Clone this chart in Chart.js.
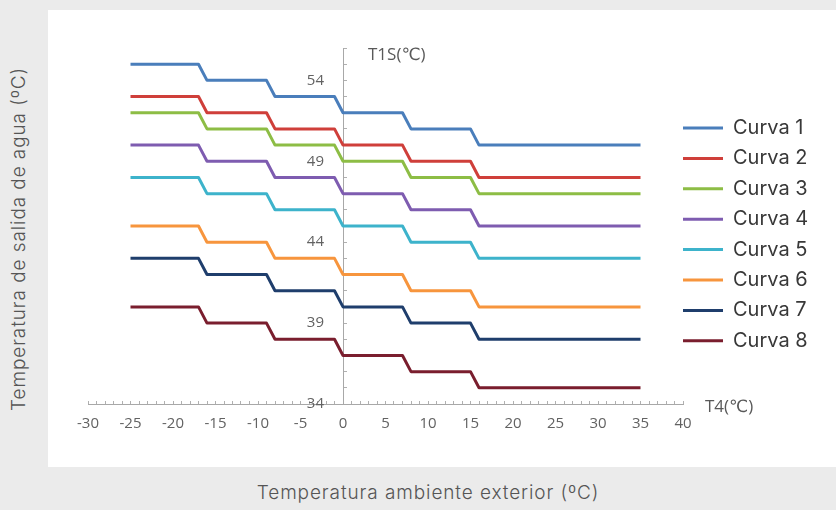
<!DOCTYPE html>
<html>
<head>
<meta charset="utf-8">
<script src="https://cdn.jsdelivr.net/npm/chart.js@4.4.1/dist/chart.umd.min.js"></script>
<style>
  html, body { margin: 0; padding: 0; }
  body { width: 836px; height: 510px; background: #ebebeb; position: relative; overflow: hidden; }
  #panel { position: absolute; left: 48px; top: 10px; width: 788px; height: 457px; background: #ffffff; }
  #panel canvas { position: absolute; left: 0; top: 0; }
  .title { position: absolute; font-family: Inter, "Noto Sans", sans-serif; font-weight: 300; font-size: 19px; letter-spacing: 0.9px; color: #555; white-space: nowrap; }
  #xtitle { left: 428px; top: 492px; transform: translate(-50%, -50%); }
  #ytitle { left: 18px; top: 239px; transform: translate(-50%, -50%) rotate(-90deg); }
</style>
</head>
<body>
<div id="panel"><canvas id="c" width="788" height="457"></canvas></div>
<div class="title" id="xtitle">Temperatura ambiente exterior (ºC)</div>
<div class="title" id="ytitle">Temperatura de salida de agua (ºC)</div>
<script>
// Outdoor temperature T4 (°C) at each breakpoint
const tempExt = [-25, -17, -16, -9, -8, -1, 0, 7, 8, 15, 16, 35];
// Water outlet temperature T1S (°C) for each curve
const curva1 = [55, 55, 54, 54, 53, 53, 52, 52, 51, 51, 50, 50];
const curva2 = [53, 53, 52, 52, 51, 51, 50, 50, 49, 49, 48, 48];
const curva3 = [52, 52, 51, 51, 50, 50, 49, 49, 48, 48, 47, 47];
const curva4 = [50, 50, 49, 49, 48, 48, 47, 47, 46, 46, 45, 45];
const curva5 = [48, 48, 47, 47, 46, 46, 45, 45, 44, 44, 43, 43];
const curva6 = [45, 45, 44, 44, 43, 43, 42, 42, 41, 41, 40, 40];
const curva7 = [43, 43, 42, 42, 41, 41, 40, 40, 39, 39, 38, 38];
const curva8 = [40, 40, 39, 39, 38, 38, 37, 37, 36, 36, 35, 35];
const seriesNames = ['Curva 1', 'Curva 2', 'Curva 3', 'Curva 4', 'Curva 5', 'Curva 6', 'Curva 7', 'Curva 8'];
const seriesValues = [curva1, curva2, curva3, curva4, curva5, curva6, curva7, curva8];
// Axis ticks
const xTickValues = [-30, -25, -20, -15, -10, -5, 0, 5, 10, 15, 20, 25, 30, 35, 40];
const yTickValues = [34, 39, 44, 49, 54];
const xMin = -30, xMax = 40, yMin = 34, yMax = 56;

const colors = ['#4a7ebb', '#cf3f3a', '#8dbd45', '#7e5cb0', '#3db3cb', '#f7953d', '#1f3e6c', '#7a1e2e'];

const datasets = seriesValues.map((vals, i) => ({
  label: seriesNames[i],
  data: vals.map((v, j) => ({ x: tempExt[j], y: v })),
  borderColor: colors[i],
  backgroundColor: colors[i],
  borderWidth: 3,
  borderJoinStyle: 'round',
  pointRadius: 0,
  pointStyle: 'line',
  tension: 0,
  fill: false
}));

const tickFamily = '"Open Sans", "DejaVu Sans", sans-serif';

const axisLabels = {
  id: 'axisLabels',
  afterLayout(chart) {
    const lg = chart.legend;
    const ca = chart.chartArea;
    const pad = lg.options.labels.padding;
    const w = lg.width, h = lg.height;
    lg.left = ca.right - pad;
    lg.right = lg.left + w;
    lg.top = 108 - pad;
    lg.bottom = lg.top + h;
  },
  afterDraw(chart) {
    const ctx = chart.ctx;
    const xs = chart.scales.x, ys = chart.scales.y;
    const x0 = xs.getPixelForValue(0);
    ctx.save();
    ctx.fillStyle = '#626262';
    ctx.font = '15px ' + tickFamily;
    ctx.textBaseline = 'middle';
    ctx.textAlign = 'right';
    yTickValues.forEach(v => ctx.fillText(String(v), x0 - 19, ys.getPixelForValue(v)));
    ctx.fillStyle = '#595959';
    ctx.font = '17px ' + tickFamily;
    ctx.textAlign = 'left';
    ctx.fillText('T1S(℃)', x0 + 25, chart.chartArea.top + 7);
    ctx.fillText('T4(℃)', chart.chartArea.right + 22, ys.getPixelForValue(yMin) + 3);
    ctx.restore();
  }
};

new Chart(document.getElementById('c'), {
  type: 'line',
  data: { datasets },
  plugins: [axisLabels],
  options: {
    responsive: false,
    animation: false,
    devicePixelRatio: 1,
    layout: { padding: { left: 40, top: 38, bottom: 63, right: 153 } },
    plugins: {
      tooltip: { enabled: false },
      legend: {
        position: 'chartArea',
        align: 'start',
        labels: {
          usePointStyle: true,
          pointStyle: 'line',
          pointStyleWidth: 40,
          boxHeight: 20,
          padding: 10.4,
          color: '#383838',
          font: { family: 'Inter, "Noto Sans", sans-serif', size: 20 }
        }
      }
    },
    scales: {
      x: {
        type: 'linear',
        position: { y: yMin },
        min: xMin, max: xMax,
        afterFit(s) { s.height = 0; },
        afterBuildTicks(s) {
          const t = [];
          for (let v = xMin; v <= xMax; v++) t.push({ value: v });
          s.ticks = t;
        },
        grid: { drawOnChartArea: false, drawTicks: true, tickLength: -4, color: '#b0b0b0' },
        border: { color: '#a8a8a8', width: 1 },
        ticks: {
          autoSkip: false, maxRotation: 0, padding: 15,
          color: '#626262', font: { family: tickFamily, size: 15 },
          callback: (v) => xTickValues.includes(v) ? String(v) : ''
        }
      },
      y: {
        type: 'linear',
        position: { x: 0 },
        min: yMin, max: yMax,
        afterFit(s) { s.width = 0; },
        afterBuildTicks(s) {
          const t = [];
          for (let v = yMin; v <= yMax; v++) t.push({ value: v });
          s.ticks = t;
        },
        grid: { drawOnChartArea: false, drawTicks: true, tickLength: -4, color: '#b0b0b0' },
        border: { color: '#a8a8a8', width: 1 },
        ticks: { display: false }
      }
    }
  }
});
</script>
</body>
</html>
